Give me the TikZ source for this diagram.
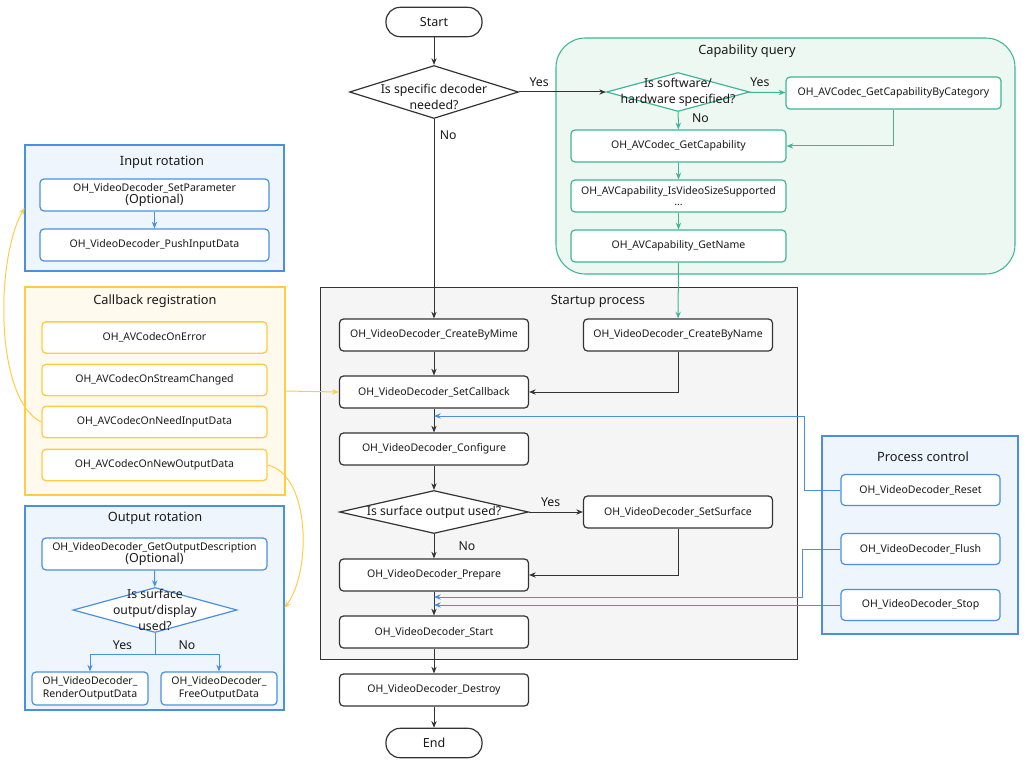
\documentclass[tikz,border=0pt]{standalone}
\usepackage{fontspec}
\setmainfont{Noto Sans}
\usetikzlibrary{positioning,shapes.geometric,arrows.meta}

\definecolor{capgreen}{HTML}{3DB894}
\definecolor{capfill}{HTML}{EEF8F3}
\definecolor{ctlblue}{HTML}{4A90E2}
\definecolor{ctlfill}{HTML}{EEF5FD}
\definecolor{cbyellow}{HTML}{FFCC45}
\definecolor{cbfill}{HTML}{FFF9EE}
\definecolor{startfill}{HTML}{F5F5F5}
\definecolor{linegray}{HTML}{333333}
\definecolor{txt}{HTML}{1A1A1A}

\tikzset{
  panel/.style={line width=0.8pt, inner sep=0pt},
  title/.style={font=\fontsize{9.6}{11}\selectfont, text=txt},
  box/.style={draw=linegray, rounded corners=3pt, fill=white, line width=0.9pt,
    minimum width=141.75pt, minimum height=24pt, inner sep=1pt,
    font=\fontsize{7.9}{9.5}\selectfont, align=center, text=txt},
  capbox/.style={box, draw=capgreen, minimum width=161.25pt},
  cbbox/.style={box, draw=cbyellow, line width=1pt, minimum width=168.75pt, minimum height=23.5pt},
  inbox/.style={box, draw=ctlblue, minimum width=171.75pt},
  ctlbox/.style={box, draw=ctlblue, minimum width=119.25pt, minimum height=23.25pt},
  terminal/.style={box, rounded corners=10.5pt, minimum width=72pt, minimum height=22pt,
    font=\fontsize{9.4}{11}\selectfont},
  decision/.style={diamond, draw=linegray, fill=white, line width=0.9pt, inner sep=0pt},
  qtext/.style={font=\fontsize{9.2}{12}\selectfont, align=center, text=txt},
  ans/.style={font=\fontsize{9.2}{10}\selectfont, text=txt, inner sep=1pt},
  flow/.style={draw=linegray, line width=0.75pt, -{Stealth[length=5pt,width=4pt]}},
  capline/.style={flow, draw=capgreen},
  ctlline/.style={flow, draw=ctlblue},
  cbline/.style={flow, draw=cbyellow}
}

\begin{document}
\begin{tikzpicture}[x=0.75pt, y=-0.75pt]
\useasboundingbox (0,0) rectangle (1027,763);

% panels
\node[panel, draw=capgreen, fill=capfill, rounded corners=22pt, minimum width=344.25pt, minimum height=177pt] (cappanel) at (785.5,156) {};
\node[panel, draw=linegray, line width=0.6pt, fill=startfill, minimum width=357.75pt, minimum height=279pt] (startpanel) at (558.5,473) {};
\node[panel, draw=ctlblue, fill=ctlfill, minimum width=147pt, minimum height=148.5pt] (ctlpanel) at (920,535) {};
\node[panel, draw=ctlblue, fill=ctlfill, minimum width=194.25pt, minimum height=94.5pt] (inpanel) at (154.5,208) {};
\node[panel, draw=cbyellow, fill=cbfill, minimum width=195pt, minimum height=156pt] (cbpanel) at (155,391) {};
\node[panel, draw=ctlblue, fill=ctlfill, minimum width=194.25pt, minimum height=153pt] (outpanel) at (154.5,608) {};

\node[title] (captitle) at (747,51) {Capability query};
\node[title] (starttitle) at (598,301) {Startup process};
\node[title] (ctltitle) at (923,457) {Process control};
\node[title] (intitle) at (162,162) {Input rotation};
\node[title] (cbtitle) at (155,301) {Callback registration};
\node[title] (outtitle) at (155,518) {Output rotation};

% main flow
\node[terminal] (start) at (434,22) {Start};
\node[decision, minimum width=126.75pt, minimum height=39.75pt,
  label={[qtext, yshift=-3.5pt]center:{Is specific decoder\\needed?}}] (q1) at (434,92) {};
\node[box] (mime) at (434,335) {OH\_VideoDecoder\_CreateByMime};
\node[box] (byname) at (678,335) {OH\_VideoDecoder\_CreateByName};
\node[box] (setcb) at (434,392) {OH\_VideoDecoder\_SetCallback};
\node[box] (configure) at (434,449) {OH\_VideoDecoder\_Configure};
\node[decision, minimum width=141.75pt, minimum height=32.25pt,
  label={[qtext]center:{Is surface output used?}}] (q3) at (434,512) {};
\node[box] (setsurf) at (678,512) {OH\_VideoDecoder\_SetSurface};
\node[box] (prepare) at (434,575) {OH\_VideoDecoder\_Prepare};
\node[box] (vdstart) at (434,632) {OH\_VideoDecoder\_Start};
\node[box] (destroy) at (434,690) {OH\_VideoDecoder\_Destroy};
\node[terminal] (finish) at (434,743) {End};

% capability query
\node[decision, draw=capgreen, minimum width=107.25pt, minimum height=29.25pt,
  label={[qtext]center:{Is software/\\hardware specified?}}] (q2) at (678,92) {};
\node[capbox] (bycat) at (893.5,93) {OH\_AVCodec\_GetCapabilityByCategory};
\node[capbox] (getcap) at (678.5,146) {OH\_AVCodec\_GetCapability};
\node[capbox] (sizesup) at (678.5,196) {OH\_AVCapability\_IsVideoSizeSupported\\[-1pt]...};
\node[capbox] (getname) at (678.5,246) {OH\_AVCapability\_GetName};

% process control
\node[ctlbox] (reset) at (920.5,490) {OH\_VideoDecoder\_Reset};
\node[ctlbox] (flush) at (920.5,549) {OH\_VideoDecoder\_Flush};
\node[ctlbox] (stop) at (920.5,605) {OH\_VideoDecoder\_Stop};
\coordinate (jreset) at (434,416);
\coordinate (jflush) at (434,597);
\coordinate (jstop) at (434,605);

% input rotation
\node[inbox] (setparam) at (154.5,195) {OH\_VideoDecoder\_SetParameter\\[-1pt]{\fontsize{9.4}{10}\selectfont (Optional)}};
\node[inbox] (pushin) at (154.5,245) {OH\_VideoDecoder\_PushInputData};

% callback registration
\node[cbbox] (cberr) at (154.5,337.5) {OH\_AVCodecOnError};
\node[cbbox] (cbstream) at (154.5,380) {OH\_AVCodecOnStreamChanged};
\node[cbbox] (cbneed) at (154.5,422) {OH\_AVCodecOnNeedInputData};
\node[cbbox] (cbnew) at (154.5,465) {OH\_AVCodecOnNewOutputData};

% output rotation
\node[box, draw=ctlblue, minimum width=168.75pt] (outdesc) at (154.5,554) {OH\_VideoDecoder\_GetOutputDescription\\[-1pt]{\fontsize{9.4}{10}\selectfont (Optional)}};
\node[decision, draw=ctlblue, minimum width=123pt, minimum height=33.75pt,
  label={[qtext, font=\fontsize{9.2}{12.2}\selectfont]center:{Is surface\\output/display\\used?}}] (outq) at (155,610) {};
\node[box, draw=ctlblue, minimum width=87pt, minimum height=24.75pt] (render) at (90,688.5) {OH\_VideoDecoder\_\\RenderOutputData};
\node[box, draw=ctlblue, minimum width=87pt, minimum height=24.75pt] (freeout) at (219,688.5) {OH\_VideoDecoder\_\\FreeOutputData};

% connectors
\draw[flow] (start) -- (q1);
\draw[flow] (q1) -- node[ans, above=3pt, pos=0.23] (yes1) {Yes} (q2);
\draw[flow] (q1) -- node[ans, anchor=west, pos=0.08, xshift=3pt] (no1) {No} (mime);
\draw[capline] (q2) -- node[ans, above=3pt, pos=0.3] (yes2) {Yes} (bycat);
\draw[capline] (q2) -- node[ans, anchor=west, pos=0.35, xshift=9pt] (no2) {No} (getcap);
\draw[capline] (bycat.south) |- (getcap.east);
\draw[capline] (getcap) -- (sizesup);
\draw[capline] (sizesup) -- (getname);
\draw[capline] (getname) -- (byname);
\draw[flow] (mime) -- (setcb);
\draw[flow] (byname.south) |- (setcb.east);
\draw[flow] (setcb) -- (configure);
\draw[flow] (configure) -- (q3);
\draw[flow] (q3) -- node[ans, above=3pt, pos=0.4] (yes3) {Yes} (setsurf);
\draw[flow] (q3) -- node[ans, anchor=west, pos=0.5, xshift=17pt] (no3) {No} (prepare);
\draw[flow] (setsurf.south) |- (prepare.east);
\draw[flow] (prepare) -- (vdstart);
\draw[flow] (vdstart) -- (destroy);
\draw[flow] (destroy) -- (finish);

\draw[ctlline] (reset.west) -- ++(-36,0) |- (jreset);
\draw[ctlline] (flush.west) -- ++(-38,0) |- (jflush);
\draw[ctlline] (stop.west) -- (jstop);

\draw[ctlline] (setparam) -- (pushin);
\draw[ctlline] (outdesc) -- (outq);
\draw[ctlline] (outq.south) -- ++(0,21) -| node[ans, pos=0.25, above=2pt] (yes4) {Yes} (render.north);
\draw[ctlline] (outq.south) -- ++(0,21) -| node[ans, pos=0.25, above=2pt] (no4) {No} (freeout.north);

\draw[cbline] (cbpanel.east) -- (setcb.west);
\draw[cbline] (cbneed.west) .. controls (-5,400) and (-5,260) .. (inpanel.west);
\draw[cbline] (cbnew.east) .. controls (310,475) and (312,570) .. (outpanel.east);
\end{tikzpicture}
\end{document}
